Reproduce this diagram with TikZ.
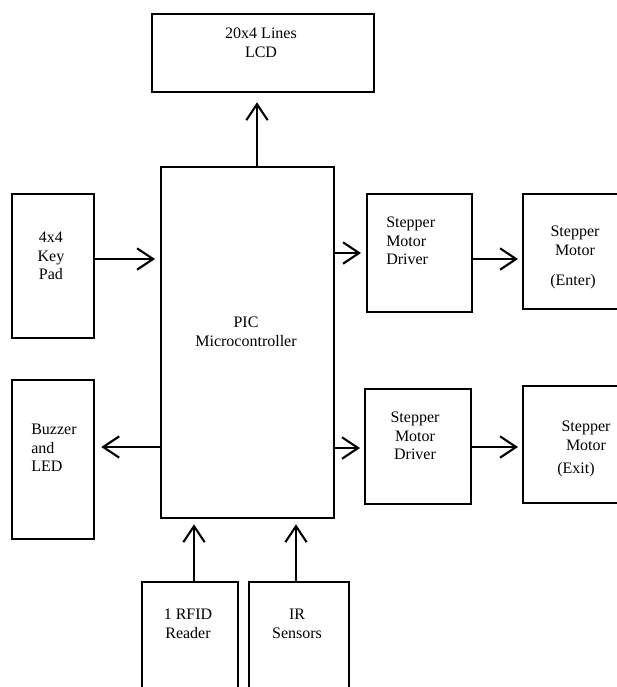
\documentclass[tikz,border=0pt]{standalone}
\usepackage{fontspec}
\setmainfont{Liberation Serif}
\usepackage{tikz}
\usetikzlibrary{arrows.meta}

\begin{document}
\begin{tikzpicture}[x=0.75pt, y=-0.75pt,
  every node/.style={font=\rmfamily\fontsize{12}{13.9}\selectfont, align=center, inner sep=0pt},
  blk/.style={draw, line width=1.7pt, anchor=north west},
  arr/.style={line width=1.6pt, -{Straight Barb[length=12pt, width=16pt]}}]
\useasboundingbox (0,0) rectangle (617,687);
\clip (0,0) rectangle (617,687);
% blocks
\node[blk, minimum width=166.5pt, minimum height=58.5pt] (lcd) at (151,13) {};
\node[blk, minimum width=129.75pt, minimum height=263.25pt] (pic) at (160,166) {};
\node[blk, minimum width=61.5pt, minimum height=108pt] (keypad) at (11,193) {};
\node[blk, minimum width=61.5pt, minimum height=119.25pt] (buzzer) at (11,379) {};
\node[blk, minimum width=78.75pt, minimum height=88.5pt] (drvA) at (366,193) {};
\node[blk, minimum width=90pt, minimum height=86.25pt] (motA) at (522,193) {};
\node[blk, minimum width=79.5pt, minimum height=86.25pt] (drvB) at (364,388) {};
\node[blk, minimum width=90pt, minimum height=87.75pt] (motB) at (522,385) {};
\node[blk, minimum width=72pt, minimum height=97.5pt] (rfid) at (141,581) {};
\node[blk, minimum width=75pt, minimum height=97.5pt] (irs) at (248,581) {};
% labels
\node (lcdtxt) at (261,42.5) {20x4 Lines\\LCD};
\node (pictxt) at (246,332) {PIC\\Microcontroller};
\node (keytxt) at (51,256) {4x4\\Key\\Pad};
\node[anchor=west, align=left] (buztxt) at (31,448) {Buzzer\\and\\LED};
\node[anchor=west, align=left] (drvAtxt) at (386,241) {Stepper\\Motor\\Driver};
\node (motAtxt) at (575,241) {Stepper\\Motor};
\node (entertxt) at (573,282) {(Enter)};
\node (drvBtxt) at (415,436) {Stepper\\Motor\\Driver};
\node (motBtxt) at (586,436) {Stepper\\Motor};
\node (exittxt) at (576,470) {(Exit)};
\node (rfidtxt) at (188,624) {1 RFID\\Reader};
\node (irstxt) at (297,624) {IR\\Sensors};
% connectors
\draw[arr, shorten >=6.75pt] (pic.north -| 257,0) -- (lcd.south -| 257,0);
\draw[arr, shorten >=3.75pt] (keypad.east |- 0,259) -- (pic.west |- 0,259);
\draw[arr, shorten >=4.5pt] (pic.west |- 0,447) -- (buzzer.east |- 0,447);
\draw[arr, shorten >=3.75pt] (pic.east |- 0,253) -- (drvA.west |- 0,253);
\draw[arr, shorten >=3pt] (drvA.east |- 0,259) -- (motA.west |- 0,259);
\draw[arr, shorten >=3pt] (pic.east |- 0,448) -- (drvB.west |- 0,448);
\draw[arr, shorten >=3pt] (drvB.east |- 0,447) -- (motB.west |- 0,447);
\draw[arr, shorten >=3.75pt] (rfid.north -| 194,0) -- (pic.south -| 194,0);
\draw[arr, shorten >=3.75pt] (irs.north -| 296,0) -- (pic.south -| 296,0);
\end{tikzpicture}
\end{document}
